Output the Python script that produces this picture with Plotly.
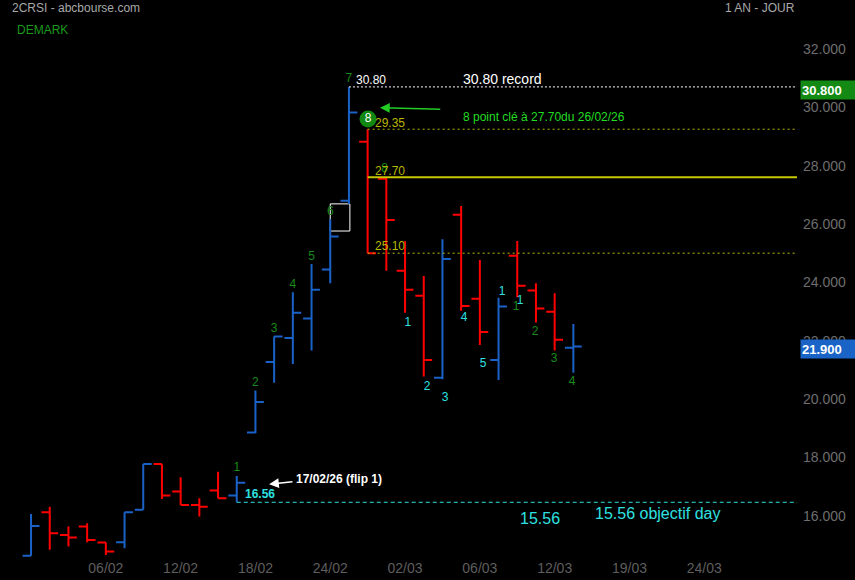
import plotly.graph_objects as go

# daily bars, index 0 = 02/02
bar_idx = list(range(30))
opens = [14.73, 16.22, 15.44, 15.73, 15.18, 15.19, 16.30, 17.87, 16.93, 16.47,
         16.96, 16.79, 18.95, 21.37, 22.19, 22.86, 24.54, 26.90, 28.92, 27.65,
         24.50, 23.64, 20.83, 26.42, 23.54, 21.44, 25.01, 23.82, 23.09, 21.86]
highs = [16.16, 16.41, 15.73, 15.84, 15.18, 16.22, 17.87, 17.87, 17.42, 16.70,
         17.61, 17.46, 20.39, 22.24, 23.76, 24.73, 26.26, 30.80, 29.35, 27.70,
         25.51, 24.32, 25.58, 26.72, 24.87, 23.57, 25.52, 24.07, 23.73, 22.67]
lows = [14.73, 14.93, 15.04, 15.19, 14.75, 14.98, 16.30, 16.67, 16.47, 16.07,
        16.70, 16.56, 18.93, 20.66, 21.30, 21.76, 24.07, 26.79, 25.10, 24.50,
        23.06, 20.87, 20.78, 23.13, 21.95, 20.75, 23.59, 22.72, 21.76, 21.00]
closes = [15.75, 15.50, 15.35, 15.27, 14.87, 16.22, 17.87, 16.79, 16.47, 16.41,
          16.70, 17.23, 20.00, 22.24, 23.06, 23.85, 25.67, 29.92, 25.10, 26.24,
          23.85, 21.44, 24.90, 23.29, 22.40, 23.27, 23.98, 23.20, 22.13, 21.90]

tick_pos = [4, 8, 12, 16, 20, 24, 28, 32, 36]
tick_text = ["06/02", "12/02", "18/02", "24/02", "02/03", "06/03", "12/03", "19/03", "24/03"]

# DeMark counts: (label, x, y)
setup_txt = ["1", "2", "3", "4", "5", "6", "7", "8", "1", "2", "3", "4"]
setup_x = [11, 12, 13, 14, 15, 16, 17, 18.9, 25.94, 26.95, 27.97, 28.93]
setup_y = [17.72, 20.66, 22.51, 24.02, 24.98, 26.52, 31.07, 27.99, 23.27, 22.41, 21.46, 20.70]
count_txt = ["1", "2", "3", "4", "5", "1", "1"]
count_x = [20.15, 21.18, 22.14, 23.16, 24.17, 25.19, 26.15]
count_y = [22.72, 20.52, 20.15, 22.87, 21.31, 23.77, 23.46]

record = 30.80
key_high = 29.35
key_level = 27.70
support = 25.10
flip_low = 16.56
last_close = 21.90

BLUE = "#1b62c8"
RED = "#ff0000"
OLIVE = "#b8b800"
CYAN = "#2ee0e0"
DKGREEN = "#1a8a1a"
FONT = "Liberation Sans, Arial, sans-serif"
XMAX = 40.96

fig = go.Figure()
fig.add_trace(go.Ohlc(
    x=bar_idx, open=opens, high=highs, low=lows, close=closes,
    increasing=dict(line=dict(color=BLUE, width=2)),
    decreasing=dict(line=dict(color=RED, width=2)),
    tickwidth=0.45, hoverinfo="skip", showlegend=False))

fig.add_trace(go.Scatter(x=setup_x, y=setup_y, text=setup_txt, mode="text",
                         textfont=dict(color=DKGREEN, size=12, family=FONT),
                         hoverinfo="skip", showlegend=False))
fig.add_trace(go.Scatter(x=count_x, y=count_y, text=count_txt, mode="text",
                         textfont=dict(color=CYAN, size=12, family=FONT),
                         hoverinfo="skip", showlegend=False))
# green circle "8"
fig.add_trace(go.Scatter(x=[18.02], y=[29.70], text=["8"], mode="markers+text",
                         marker=dict(size=17, color="#118811"),
                         textposition="middle center",
                         textfont=dict(color="white", size=12, family=FONT),
                         hoverinfo="skip", showlegend=False))

# level lines
fig.add_shape(type="line", x0=17, x1=XMAX, y0=record, y1=record,
              line=dict(color="white", width=1, dash="2px,2px"))
fig.add_shape(type="line", x0=18, x1=XMAX, y0=key_high, y1=key_high,
              line=dict(color=OLIVE, width=1, dash="2px,3px"))
fig.add_shape(type="line", x0=18, x1=XMAX, y0=key_level, y1=key_level,
              line=dict(color="#c8c800", width=2))
fig.add_shape(type="line", x0=18, x1=XMAX, y0=support, y1=support,
              line=dict(color=OLIVE, width=1, dash="2px,3px"))
fig.add_shape(type="line", x0=11, x1=XMAX, y0=flip_low, y1=flip_low,
              line=dict(color=CYAN, width=1, dash="4px,3px"))
fig.add_shape(type="rect", x0=16, x1=17.05, y0=25.86, y1=26.79, layer="below",
              line=dict(color="white", width=1), fillcolor="black")

def txt(x, y, s, color, size=12, bold=False, xanchor="left"):
    fig.add_annotation(x=x, y=y, text=f"<b>{s}</b>" if bold else s, showarrow=False,
                       xanchor=xanchor, yanchor="middle",
                       font=dict(color=color, size=size, family=FONT))

txt(17.27, 31.04, "30.80", "white")
txt(22.99, 31.07, "30.80 record", "white", 14)
txt(23.0, 29.77, "8 point clé à 27.70du 26/02/26", "#22dd22")
txt(18.29, 29.56, "29.35", OLIVE)
txt(18.29, 27.92, "27.70", OLIVE)
txt(18.29, 25.35, "25.10", OLIVE)
txt(14.06, 17.36, "17/02/26 (flip 1)", "white", 12, True)
txt(11.34, 16.85, "16.56", CYAN, 12, True)
txt(26.04, 16.02, "15.56", CYAN, 16)
txt(30.05, 16.19, "15.56 objectif day", CYAN, 16)

# arrows
fig.add_annotation(x=18.66, y=30.09, ax=21.96, ay=30.03, axref="x", ayref="y",
                   text="", showarrow=True, arrowhead=2, arrowsize=1.3,
                   arrowwidth=1.5, arrowcolor="#22cc22")
fig.add_annotation(x=12.73, y=17.18, ax=14.06, ay=17.27, axref="x", ayref="y",
                   text="", showarrow=True, arrowhead=2, arrowsize=1.3,
                   arrowwidth=1.5, arrowcolor="white")

# header texts
for s, x, y, c, xa in [("2CRSI - abcbourse.com", 0.013, 0.9857, "#a8a8a8", "left"),
                       ("DEMARK", 0.019, 0.946, "#1a9a1a", "left"),
                       ("1 AN - JOUR", 1.0, 0.9857, "#a8a8a8", "right")]:
    fig.add_annotation(x=x, y=y, xref="paper", yref="paper", text=s, showarrow=False,
                       xanchor=xa, yanchor="middle",
                       font=dict(color=c, size=12, family=FONT))

# price boxes on the axis
for v, bg, sh in [(record, "#138a13", -3), (last_close, "#1a64c8", -2.5)]:
    fig.add_annotation(x=1, xref="paper", y=v, yref="y", text=f"<b>{v:.3f}</b>",
                       showarrow=False, xanchor="left", yanchor="middle", xshift=3,
                       yshift=sh, align="left", width=58, height=16, borderpad=1,
                       bgcolor=bg, font=dict(color="white", size=13, family=FONT))

fig.update_layout(
    width=855, height=580,
    margin=dict(l=0, r=58, t=0, b=22),
    paper_bgcolor="black", plot_bgcolor="black",
    font=dict(family=FONT),
    xaxis=dict(range=[-1.66, XMAX], tickvals=tick_pos, ticktext=tick_text,
               showgrid=False, zeroline=False, showline=False, rangeslider=dict(visible=False),
               tickfont=dict(color="#5e5e5e", size=14), ticks="", automargin=False),
    yaxis=dict(range=[14.65, 33.78], side="right", tickvals=[16, 18, 20, 22, 24, 26, 28, 30, 32],
               tickformat=".3f", showgrid=False, zeroline=False, showline=False,
               tickfont=dict(color="#6e6e6e", size=14), ticks="", ticklabelstandoff=5,
               ticklabelshift=-3, automargin=False),
    hovermode=False,
)

fig.write_html("out.html", config={"displayModeBar": False},
               post_script="document.body.style.margin='0';document.body.style.background='black';")
